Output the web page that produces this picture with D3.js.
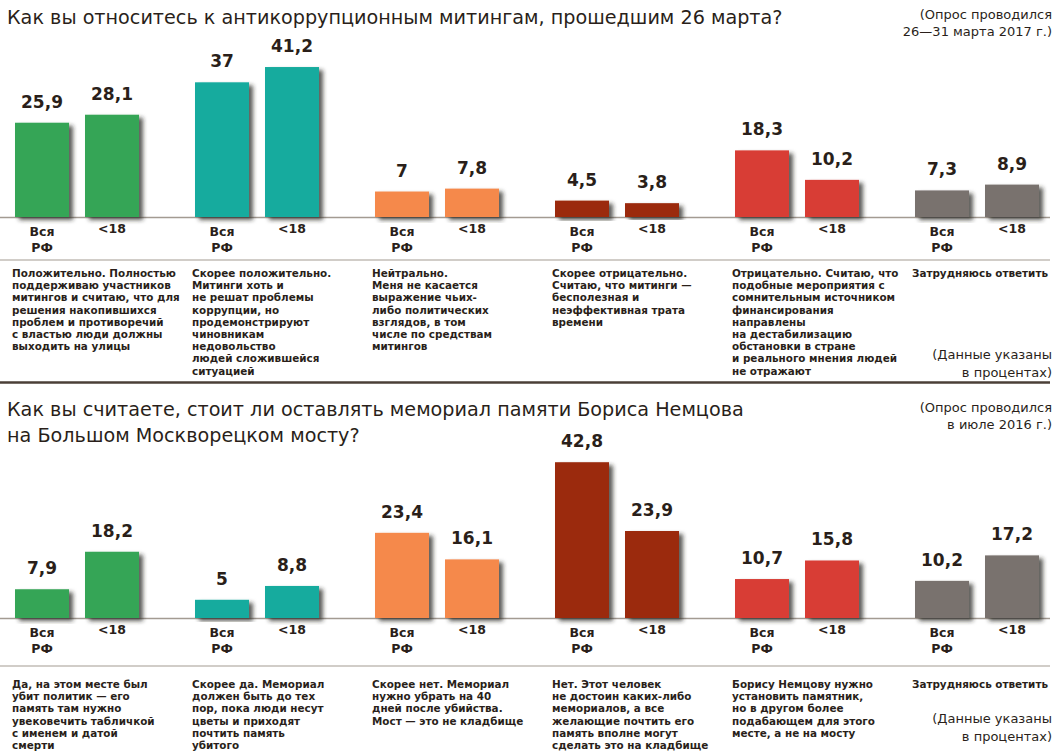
<!DOCTYPE html>
<html>
<head>
<meta charset="utf-8">
<script src="https://cdn.jsdelivr.net/npm/d3@7"></script>
<style>
  body { margin: 0; background: #fff; }
  text { fill: #2a1f1a; font-family: "DejaVu Sans", sans-serif; }
  .title { font-size: 19.2px; }
  .note { font-size: 13px; }
  .val { font-size: 17px; font-weight: bold; }
  .cat { font-size: 12.5px; font-weight: bold; }
  .desc { font-size: 10.4px; font-weight: bold; }
</style>
</head>
<body>
<script>
// --- data ---
const groups = ['g1', 'g2', 'g3', 'g4', 'g5', 'g6'];
const seriesKeys = ['all', 'u18'];
const colors = ['#35a556', '#17ab9e', '#f5894c', '#9b2c0b', '#d83c35', '#79726e'];

const title1 = 'Как вы относитесь к антикоррупционным митингам, прошедшим 26 марта?';
const note1 = ['(Опрос проводился', '26—31 марта 2017 г.)'];
const allRF1 = [25.9, 37, 7, 4.5, 18.3, 7.3];
const under18_1 = [28.1, 41.2, 7.8, 3.8, 10.2, 8.9];
const desc1 = [
  ['Положительно. Полностью', 'поддерживаю участников', 'митингов и считаю, что для',
   'решения накопившихся', 'проблем и противоречий', 'с властью люди должны', 'выходить на улицы'],
  ['Скорее положительно.', 'Митинги хоть и', 'не решат проблемы', 'коррупции, но',
   'продемонстрируют', 'чиновникам', 'недовольство', 'людей сложившейся', 'ситуацией'],
  ['Нейтрально.', 'Меня не касается', 'выражение чьих-', 'либо политических',
   'взглядов, в том', 'числе по средствам', 'митингов'],
  ['Скорее отрицательно.', 'Считаю, что митинги —', 'бесполезная и',
   'неэффективная трата', 'времени'],
  ['Отрицательно. Считаю, что', 'подобные мероприятия с', 'сомнительным источником',
   'финансирования', 'направлены', 'на дестабилизацию', 'обстановки в стране',
   'и реального мнения людей', 'не отражают'],
  ['Затрудняюсь ответить']
];

const title2 = ['Как вы считаете, стоит ли оставлять мемориал памяти Бориса Немцова',
                'на Большом Москворецком мосту?'];
const note2 = ['(Опрос проводился', 'в июле 2016 г.)'];
const allRF2 = [7.9, 5, 23.4, 42.8, 10.7, 10.2];
const under18_2 = [18.2, 8.8, 16.1, 23.9, 15.8, 17.2];
const desc2 = [
  ['Да, на этом месте был', 'убит политик — его', 'память там нужно',
   'увековечить табличкой', 'с именем и датой', 'смерти'],
  ['Скорее да. Мемориал', 'должен быть до тех', 'пор, пока люди несут',
   'цветы и приходят', 'почтить память', 'убитого'],
  ['Скорее нет. Мемориал', 'нужно убрать на 40', 'дней после убийства.',
   'Мост — это не кладбище'],
  ['Нет. Этот человек', 'не достоин каких-либо', 'мемориалов, а все',
   'желающие почтить его', 'память вполне могут', 'сделать это на кладбище'],
  ['Борису Немцову нужно', 'установить памятник,', 'но в другом более',
   'подабающем для этого', 'месте, а не на мосту'],
  ['Затрудняюсь ответить']
];

const catLabels = { all: ['Вся', 'РФ'], u18: ['<18'] };
const unitsNote = ['(Данные указаны', 'в процентах)'];

// --- layout ---
const W = 1060, H = 752;
const fmt = d3.formatLocale({ decimal: ',', thousands: ' ', grouping: [3], currency: ['', ''] })
  .format('.1~f');

const svg = d3.select('body').append('svg')
  .attr('width', W).attr('height', H);

const defs = svg.append('defs');
defs.append('filter').attr('id', 'shadow')
  .attr('x', '-20%').attr('y', '-20%').attr('width', '150%').attr('height', '140%')
  .append('feDropShadow')
  .attr('dx', 4).attr('dy', 3).attr('stdDeviation', 2)
  .attr('flood-color', '#2a2622').attr('flood-opacity', 0.75);

const x0 = d3.scaleBand().domain(groups)
  .range([15, 15 + 5 * 180 + 124]).paddingInner(56 / 180).paddingOuter(0);
const x1 = d3.scaleBand().domain(seriesKeys)
  .range([0, x0.bandwidth()]).paddingInner(16 / 70).paddingOuter(0);

function panel(opt) {
  const g = svg.append('g');
  const y = d3.scaleLinear().domain([0, 45]).range([opt.base, opt.base - 45 * 3.64]);

  const rows = groups.map((k, i) => ({
    key: k, i,
    vals: [{ s: 'all', v: opt.all[i] }, { s: 'u18', v: opt.u18[i] }]
  }));

  // separators
  g.append('line').attr('x1', 0).attr('x2', 1050)
    .attr('y1', opt.base + 0.5).attr('y2', opt.base + 0.5)
    .attr('stroke', '#a39b92').attr('stroke-width', 1.5);
  g.append('line').attr('x1', 0).attr('x2', 1050)
    .attr('y1', opt.sep).attr('y2', opt.sep)
    .attr('stroke', '#a39b92').attr('stroke-width', 1.2);
  if (opt.bottomLine) {
    g.append('line').attr('x1', 0).attr('x2', 1050)
      .attr('y1', opt.bottomLine).attr('y2', opt.bottomLine)
      .attr('stroke', '#4a3f37').attr('stroke-width', 2.5);
  }

  const grp = g.selectAll('g.grp').data(rows).enter().append('g')
    .attr('class', 'grp')
    .attr('transform', d => `translate(${x0(d.key)},0)`);

  grp.selectAll('rect').data(d => d.vals.map(v => ({ ...v, c: colors[d.i] })))
    .enter().append('rect')
    .attr('x', d => x1(d.s))
    .attr('width', x1.bandwidth())
    .attr('y', d => y(d.v))
    .attr('height', d => y(0) - y(d.v))
    .attr('fill', d => d.c)
    .attr('filter', 'url(#shadow)');

  grp.selectAll('text.val').data(d => d.vals).enter().append('text')
    .attr('class', 'val')
    .attr('x', d => x1(d.s) + x1.bandwidth() / 2)
    .attr('y', d => y(d.v) - 15)
    .attr('text-anchor', 'middle')
    .text(d => fmt(d.v));

  // category labels under bars
  seriesKeys.forEach(s => {
    const t = grp.append('text').attr('class', 'cat')
      .attr('text-anchor', 'middle')
      .attr('x', x1(s) + x1.bandwidth() / 2)
      .attr('y', opt.base + (s === 'all' ? 19 : 16));
    catLabels[s].forEach((line, j) => {
      t.append('tspan').attr('x', x1(s) + x1.bandwidth() / 2)
        .attr('dy', j === 0 ? 0 : 16).text(line);
    });
  });

  // descriptions
  grp.append('text').attr('class', 'desc')
    .attr('y', opt.descY)
    .selectAll('tspan').data(d => opt.desc[d.i]).enter().append('tspan')
    .attr('x', -3).attr('dy', (d, j) => j === 0 ? 0 : 12.2)
    .text(d => d);

  // titles & notes
  opt.title.forEach((line, j) => {
    g.append('text').attr('class', 'title')
      .attr('x', 7).attr('y', opt.titleY + j * 26).text(line);
  });
  opt.note.forEach((line, j) => {
    g.append('text').attr('class', 'note').attr('text-anchor', 'end')
      .attr('x', 1052).attr('y', opt.noteY + j * 17).text(line);
  });
  unitsNote.forEach((line, j) => {
    g.append('text').attr('class', 'note').attr('text-anchor', 'end')
      .attr('x', 1052).attr('y', opt.unitsY + j * 18).text(line);
  });
}

panel({
  all: allRF1, u18: under18_1, desc: desc1,
  base: 217, sep: 260, bottomLine: 382.5, descY: 277,
  title: [title1], titleY: 24, note: note1, noteY: 19, unitsY: 359
});

panel({
  all: allRF2, u18: under18_2, desc: desc2,
  base: 618, sep: 666, bottomLine: null, descY: 688,
  title: title2, titleY: 416, note: note2, noteY: 412, unitsY: 723
});
</script>
</body>
</html>
